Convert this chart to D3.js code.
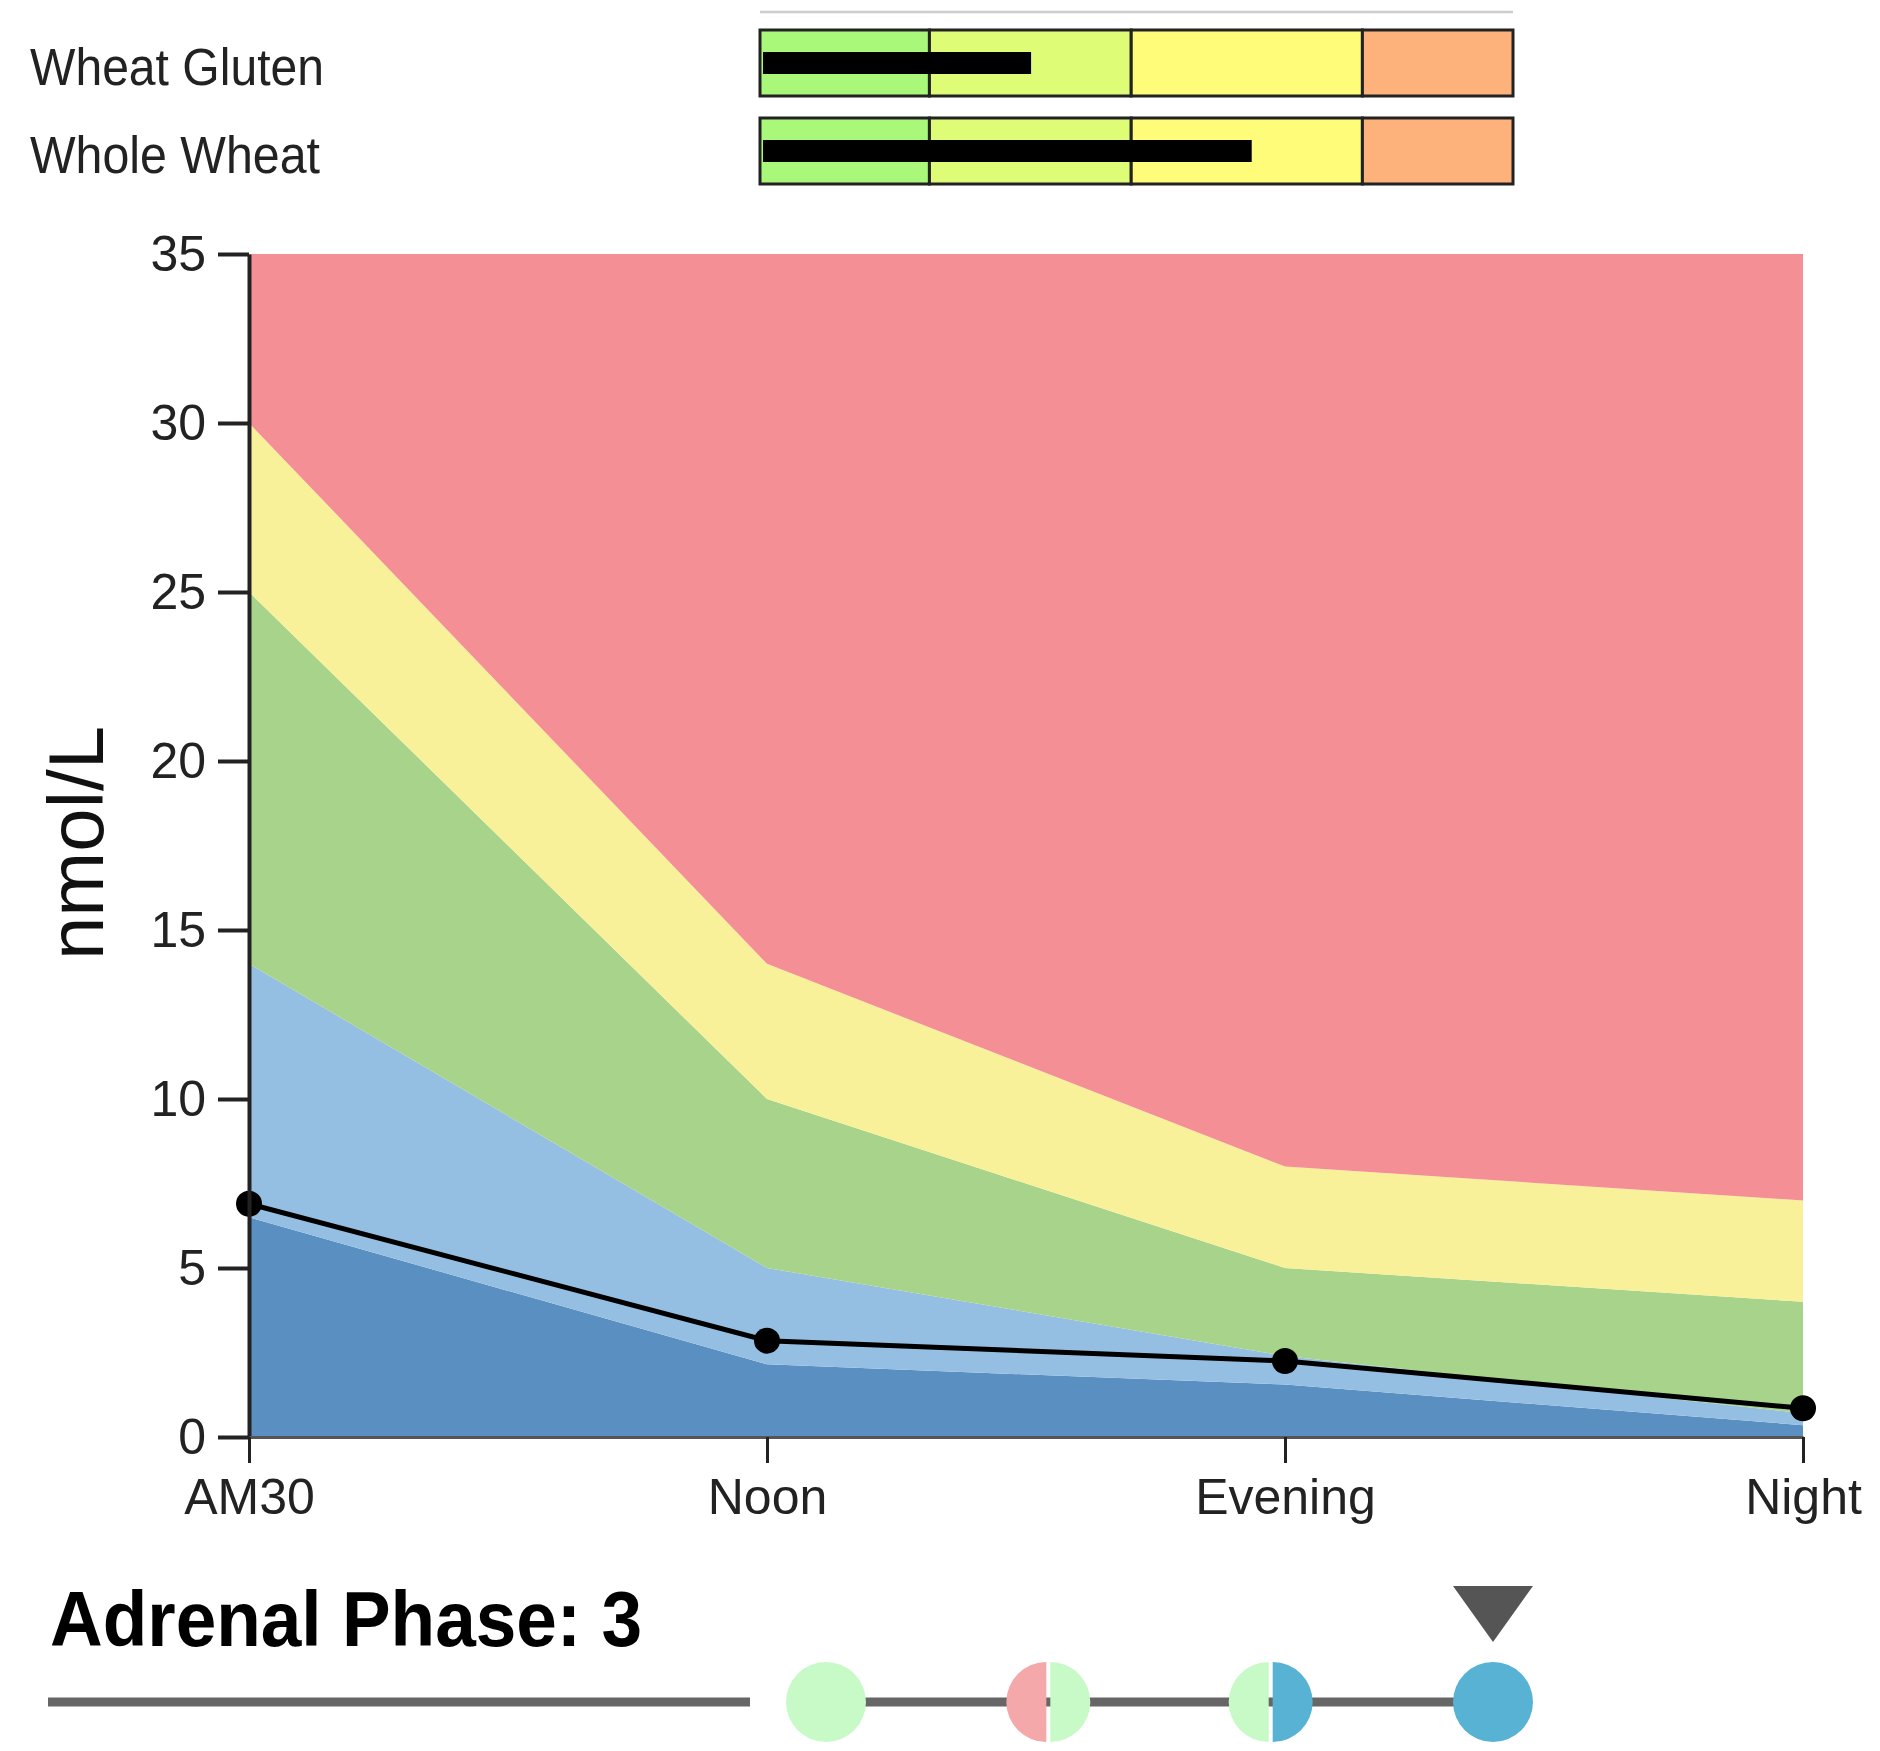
<!DOCTYPE html>
<html>
<head>
<meta charset="utf-8">
<script src="https://cdn.jsdelivr.net/npm/d3@7"></script>
<style>
  html, body { margin: 0; padding: 0; background: #fff; }
  svg { display: block; font-family: "Liberation Sans", Arial, Helvetica, sans-serif; }
</style>
</head>
<body>
<svg id="chart" width="1880" height="1751"></svg>
<script>
// ---------- data ----------
const times = ["AM30", "Noon", "Evening", "Night"];
// upper limits of each reference band (stacked, cumulative), nmol/L
const bandDarkBlue  = [6.5, 2.15, 1.55, 0.35];
const bandLightBlue = [14, 5, 2.4, 0.7];
const bandGreen     = [25, 10, 5, 4];
const bandYellow    = [30, 14, 8, 7];
const bandRed       = [35, 35, 35, 35];
const measured      = [6.9, 2.85, 2.25, 0.85];
const yTicks = [0, 5, 10, 15, 20, 25, 30, 35];

const bulletNames  = ["Wheat Gluten", "Whole Wheat"];
const bulletRanges = [0, 22.5, 49.3, 80, 100];
const bulletValues = [36, 65.3];

const phaseLabel = "Adrenal Phase: 3";
const phaseSteps = [
  ["#c8fac8"],
  ["#f5a8aa", "#c8fac8"],
  ["#c8fac8", "#58b2d4"],
  ["#58b2d4"]
];
const currentPhase = 3; // index of highlighted step

// ---------- drawing ----------
const svg = d3.select("#chart");

const x = d3.scalePoint().domain(times).range([249, 1803]);
const y = d3.scaleLinear().domain([0, 35]).range([1437, 254]);

const bands = [
  { up: bandDarkBlue,  color: "#5a8fc2" },
  { up: bandLightBlue, color: "#95bfe2" },
  { up: bandGreen,     color: "#a8d38b" },
  { up: bandYellow,    color: "#f9f19a" },
  { up: bandRed,       color: "#f48f96" }
];

const area = d3.area()
  .x(d => x(d.t))
  .y0(d => y(d.lo))
  .y1(d => y(d.hi));

bands.forEach((b, i) => {
  const lower = i === 0 ? times.map(() => 0) : bands[i - 1].up;
  const pts = times.map((t, j) => ({ t, lo: lower[j], hi: b.up[j] }));
  svg.append("path").attr("d", area(pts)).attr("fill", b.color);
});

// measured line
const line = d3.line().x((d, i) => x(times[i])).y(d => y(d));
svg.append("path").attr("d", line(measured))
  .attr("fill", "none").attr("stroke", "#000").attr("stroke-width", 5);
svg.selectAll("circle.pt").data(measured).enter().append("circle")
  .attr("class", "pt")
  .attr("cx", (d, i) => x(times[i])).attr("cy", d => y(d))
  .attr("r", 13).attr("fill", "#000");

// axes
const yAxis = svg.append("g").attr("transform", "translate(249,0)")
  .call(d3.axisLeft(y).tickValues(yTicks).tickSize(31).tickSizeOuter(0).tickPadding(12));
yAxis.select(".domain").attr("stroke", "#222").attr("stroke-width", 4);
yAxis.selectAll(".tick line").attr("stroke", "#222").attr("stroke-width", 4);
yAxis.selectAll(".tick text").attr("font-size", 50).attr("fill", "#222")
  .attr("font-family", "'Liberation Sans', Arial, sans-serif");

const xAxis = svg.append("g").attr("transform", "translate(0,1437)")
  .call(d3.axisBottom(x).tickSize(26).tickSizeOuter(0).tickPadding(15));
xAxis.select(".domain").attr("stroke", "#555").attr("stroke-width", 3);
xAxis.selectAll(".tick line").attr("stroke", "#222").attr("stroke-width", 3);
xAxis.selectAll(".tick text").attr("font-size", 50).attr("fill", "#222")
  .attr("font-family", "'Liberation Sans', Arial, sans-serif");

// y label
svg.append("text")
  .attr("transform", "translate(103,843) rotate(-90)")
  .attr("text-anchor", "middle")
  .attr("font-size", 78).attr("fill", "#111")
  .text("nmol/L");

// ---------- bullet charts ----------
const bx = d3.scaleLinear().domain([bulletRanges[0], bulletRanges[bulletRanges.length - 1]]).range([760, 1513]);
const bulletColors = ["#a9f87a", "#defc76", "#fffc7a", "#fdb27c"];
const rowTop = [30, 118];
const rowH = 66;
const labelLen = [294, 290];

svg.append("line").attr("x1", bx(bulletRanges[0])).attr("x2", bx(bulletRanges[4]))
  .attr("y1", 12).attr("y2", 12).attr("stroke", "#cccccc").attr("stroke-width", 2.5);

bulletNames.forEach((name, r) => {
  const g = svg.append("g");
  for (let k = 0; k < bulletRanges.length - 1; k++) {
    g.append("rect")
      .attr("x", bx(bulletRanges[k])).attr("y", rowTop[r])
      .attr("width", bx(bulletRanges[k + 1]) - bx(bulletRanges[k]))
      .attr("height", rowH)
      .attr("fill", bulletColors[k]).attr("stroke", "#222").attr("stroke-width", 3);
  }
  g.append("rect")
    .attr("x", bx(bulletRanges[0]) + 3).attr("y", rowTop[r] + rowH / 2 - 11)
    .attr("width", bx(bulletValues[r]) - bx(bulletRanges[0]) - 3)
    .attr("height", 22).attr("fill", "#000");
  svg.append("text").attr("x", 30).attr("y", rowTop[r] + 55)
    .attr("font-size", 51).attr("fill", "#222")
    .attr("textLength", labelLen[r]).attr("lengthAdjust", "spacingAndGlyphs")
    .text(name);
});

// ---------- adrenal phase ----------
svg.append("text").attr("x", 50).attr("y", 1646)
  .attr("font-size", 78).attr("font-weight", "bold").attr("fill", "#000")
  .attr("textLength", 592).attr("lengthAdjust", "spacingAndGlyphs")
  .text(phaseLabel);

const px = d3.scalePoint().domain(d3.range(phaseSteps.length)).range([826, 1493]);
const cy = 1702, pr = 40;
svg.append("line").attr("x1", 48).attr("x2", 750).attr("y1", cy).attr("y2", cy)
  .attr("stroke", "#666").attr("stroke-width", 9);
svg.append("line").attr("x1", px(0)).attr("x2", px(phaseSteps.length - 1)).attr("y1", cy).attr("y2", cy)
  .attr("stroke", "#666").attr("stroke-width", 9);

phaseSteps.forEach((cols, i) => {
  const cx = px(i);
  if (cols.length === 1) {
    svg.append("circle").attr("cx", cx).attr("cy", cy).attr("r", pr).attr("fill", cols[0]);
  } else {
    const arcL = d3.arc().innerRadius(0).outerRadius(pr).startAngle(Math.PI).endAngle(2 * Math.PI);
    const arcR = d3.arc().innerRadius(0).outerRadius(pr).startAngle(0).endAngle(Math.PI);
    svg.append("path").attr("transform", `translate(${cx - 2},${cy})`).attr("d", arcL()).attr("fill", cols[0]);
    svg.append("path").attr("transform", `translate(${cx + 2},${cy})`).attr("d", arcR()).attr("fill", cols[1]);
  }
});

const tx = px(currentPhase);
svg.append("path")
  .attr("d", `M${tx - 40},1586 L${tx + 40},1586 L${tx},1642 Z`)
  .attr("fill", "#555");
</script>
</body>
</html>
